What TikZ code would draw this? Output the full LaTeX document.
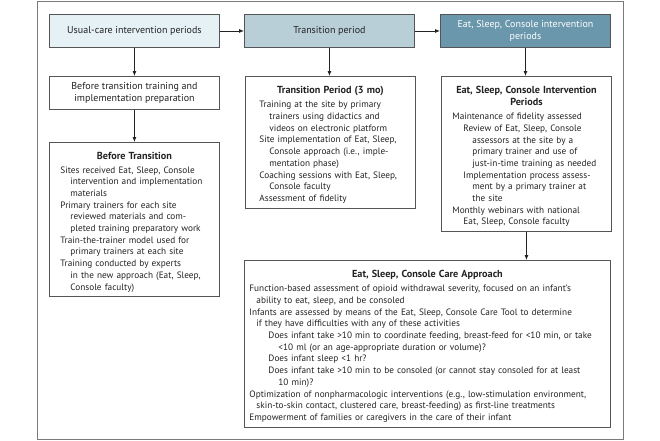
\documentclass[tikz,border=0pt]{standalone}
\usepackage{fontspec}
\setmainfont{PT Sans}
\usetikzlibrary{arrows.meta}
\definecolor{hA}{HTML}{E6F1F6}
\definecolor{hB}{HTML}{B9CFD8}
\definecolor{hC}{HTML}{6A97AB}
\definecolor{bd}{HTML}{555555}
\definecolor{txt}{HTML}{222222}
\definecolor{fr}{HTML}{7A7A7A}
\newcommand\Ln[2]{\par\noindent\hspace*{#1}\mbox{#2}}
\newcommand\Ttl[1]{\par{\centering\fontsize{10.2}{12.3}\selectfont\bfseries #1\par}\vspace{2.3pt}}
\tikzset{
  box/.style={draw=bd, line width=0.9pt, anchor=north west, inner ysep=0pt,
    text=txt, font=\fontsize{9.25}{11.7}\selectfont},
  head/.style={box, align=center, inner xsep=0pt, font=\fontsize{10}{12.3}\selectfont},
  arr/.style={draw=txt, line width=0.8pt, -{Latex[length=5pt,width=4pt]}}
}
\begin{document}
\begin{tikzpicture}[x=1pt,y=-1pt]
\useasboundingbox (0,0) rectangle (660,440);
\draw[fr, line width=1pt] (37,1) rectangle (623,439);
% headers
\node[head, fill=hA, minimum width=170pt, minimum height=33pt] (h1) at (49,14) {Usual-care intervention periods};
\node[head, fill=hB, minimum width=170pt, minimum height=33pt] (h2) at (244,14) {Transition period};
\node[head, fill=hC, text=white, minimum width=170pt, minimum height=33pt] (h3) at (440,14) {Eat, Sleep, Console intervention\\periods};
% second row
\node[head, minimum width=170pt, minimum height=33pt] (pre) at (49,76) {Before transition training and\\implementation preparation};
\node[box, inner xsep=11pt, text width=148pt, minimum height=154pt] (bt) at (49,142) {%
\Ttl{Before Transition}%
\Ln{0pt}{Sites received Eat, Sleep, Console}%
\Ln{10pt}{intervention and implementation}%
\Ln{10pt}{materials}%
\Ln{0pt}{Primary trainers for each site}%
\Ln{10pt}{reviewed materials and com-}%
\Ln{10pt}{pleted training preparatory work}%
\Ln{0pt}{Train-the-trainer model used for}%
\Ln{10pt}{primary trainers at each site}%
\Ln{0pt}{Training conducted by experts}%
\Ln{10pt}{in the new approach (Eat, Sleep,}%
\Ln{10pt}{Console faculty)}\par};
\node[box, inner xsep=14pt, text width=142pt, minimum height=132pt] (tp) at (245,76) {%
\Ttl{Transition Period (3 mo)}%
\Ln{0pt}{Training at the site by primary}%
\Ln{10pt}{trainers using didactics and}%
\Ln{10pt}{videos on electronic platform}%
\Ln{0pt}{Site implementation of Eat, Sleep,}%
\Ln{10pt}{Console approach (i.e., imple-}%
\Ln{10pt}{mentation phase)}%
\Ln{0pt}{Coaching sessions with Eat, Sleep,}%
\Ln{10pt}{Console faculty}%
\Ln{0pt}{Assessment of fidelity}\par};
\node[box, inner xsep=11pt, text width=148pt, minimum height=155pt] (esc) at (441,76) {%
\Ttl{Eat, Sleep, Console Intervention\\Periods}%
\Ln{0pt}{Maintenance of fidelity assessed}%
\Ln{11pt}{Review of Eat, Sleep, Console}%
\Ln{20pt}{assessors at the site by a}%
\Ln{20pt}{primary trainer and use of}%
\Ln{20pt}{just-in-time training as needed}%
\Ln{11pt}{Implementation process assess-}%
\Ln{20pt}{ment by a primary trainer at}%
\Ln{20pt}{the site}%
\Ln{0pt}{Monthly webinars with national}%
\Ln{11pt}{Eat, Sleep, Console faculty}\par};
\node[box, inner xsep=5pt, text width=356pt, minimum height=167pt] (care) at (244,260) {%
\Ttl{Eat, Sleep, Console Care Approach}%
\Ln{0pt}{Function-based assessment of opioid withdrawal severity, focused on an infant’s}%
\Ln{7pt}{ability to eat, sleep, and be consoled}%
\Ln{0pt}{Infants are assessed by means of the Eat, Sleep, Console Care Tool to determine}%
\Ln{7pt}{if they have difficulties with any of these activities}%
\Ln{19pt}{Does infant take >10 min to coordinate feeding, breast-feed for <10 min, or take}%
\Ln{29pt}{<10 ml (or an age-appropriate duration or volume)?}%
\Ln{19pt}{Does infant sleep <1 hr?}%
\Ln{19pt}{Does infant take >10 min to be consoled (or cannot stay consoled for at least}%
\Ln{29pt}{10 min)?}%
\Ln{0pt}{Optimization of nonpharmacologic interventions (e.g., low-stimulation environment,}%
\Ln{7pt}{skin-to-skin contact, clustered care, breast-feeding) as first-line treatments}%
\Ln{0pt}{Empowerment of families or caregivers in the care of their infant}\par};
% connectors
\draw[arr] (h1) -- (h2);
\draw[arr] (h2) -- (h3);
\draw[arr] (h1) -- (pre);
\draw[arr] (pre) -- (bt);
\draw[arr] (h2.south) -- (h2.south |- tp.north);
\draw[arr] (h3.south) -- (h3.south |- esc.north);
\draw[arr] (esc.south) -- (esc.south |- care.north);
\end{tikzpicture}
\end{document}
